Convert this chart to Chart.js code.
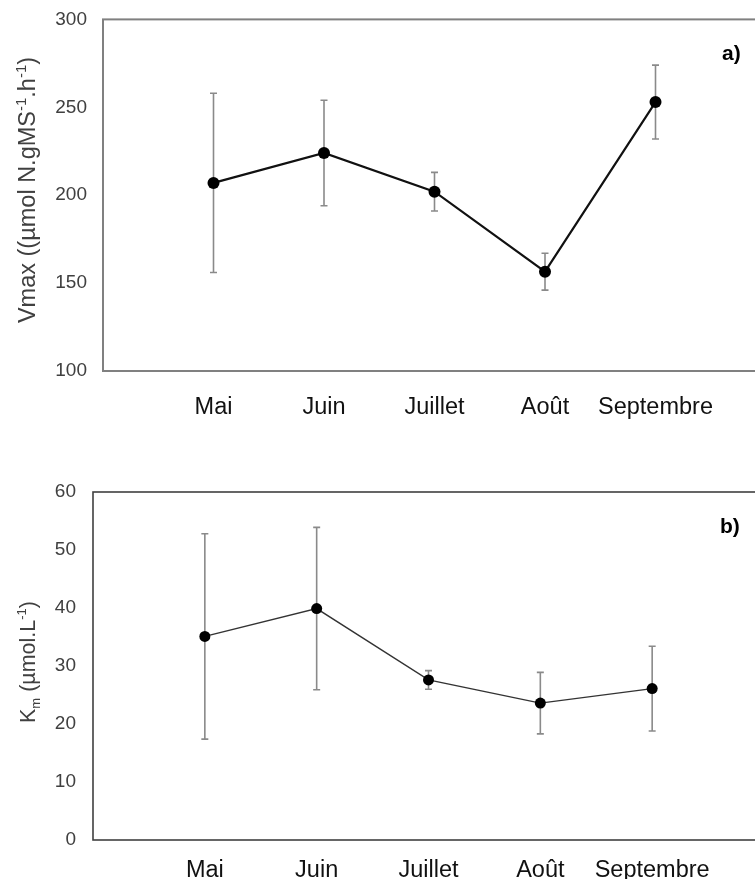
<!DOCTYPE html>
<html lang="fr">
<head>
<meta charset="UTF-8">
<title>Vmax et Km</title>
<script src="https://cdn.jsdelivr.net/npm/chart.js@4.4.1/dist/chart.umd.min.js"></script>
<style>
    html, body {
        margin: 0;
        padding: 0;
        background: #fff;
        overflow: hidden;
        width: 755px;
        height: 879px;
    }
    #wrap { width: 780px; }
    canvas { display: block; }
</style>
</head>
<body>
<div id="wrap">
    <canvas id="vmaxChart" width="780" height="440"></canvas>
    <canvas id="kmChart" width="780" height="439"></canvas>
</div>
<script>
    const months = ['Mai', 'Juin', 'Juillet', 'Août', 'Septembre'];
    const vmaxMean = [207, 224, 202, 156.5, 253];
    const vmaxErr = [51, 30, 11, 10.5, 21];
    const kmMean = [35.1, 39.9, 27.6, 23.6, 26.1];
    const kmErr = [17.7, 14, 1.6, 5.3, 7.3];

    const FONT = '"Liberation Sans", Arial, sans-serif';

    // gray box around the plot area (right side falls outside the page)
    const frame = {
        id: 'frame',
        beforeDatasetsDraw(chart) {
            const {ctx, chartArea: a} = chart;
            const ds = chart.data.datasets[0];
            ctx.save();
            ctx.strokeStyle = ds.frameColor;
            ctx.lineWidth = ds.frameWidth;
            ctx.strokeRect(a.left, a.top, a.right - a.left, a.bottom - a.top);
            ctx.restore();
        }
    };

    // vertical error bars with small caps
    const errorBars = {
        id: 'errorBars',
        beforeDatasetsDraw(chart) {
            const {ctx, scales: {x, y}} = chart;
            const ds = chart.data.datasets[0];
            ctx.save();
            ctx.strokeStyle = '#8a8a8a';
            ctx.lineWidth = 1.6;
            ds.data.forEach((p, i) => {
                const px = x.getPixelForValue(p.x);
                const top = y.getPixelForValue(p.y + ds.errors[i]);
                const bot = y.getPixelForValue(p.y - ds.errors[i]);
                ctx.beginPath();
                ctx.moveTo(px, top); ctx.lineTo(px, bot);
                ctx.moveTo(px - 3.5, top); ctx.lineTo(px + 3.5, top);
                ctx.moveTo(px - 3.5, bot); ctx.lineTo(px + 3.5, bot);
                ctx.stroke();
            });
            ctx.restore();
        }
    };

    // rotated y title with super/subscripts, and the panel letter
    const labels = {
        id: 'labels',
        afterDraw(chart) {
            const {ctx} = chart;
            const ds = chart.data.datasets[0];
            const parts = ds.titleParts;
            const big = ds.titleSize, small = Math.round(ds.titleSize * 0.62);
            ctx.save();
            ctx.fillStyle = '#404040';
            ctx.textBaseline = 'alphabetic';
            let total = 0;
            parts.forEach(p => {
                ctx.font = (p.sup || p.sub ? small : big) + 'px ' + FONT;
                p.w = ctx.measureText(p.t).width;
                total += p.w;
            });
            ctx.translate(ds.titlePos[0], ds.titlePos[1]);
            ctx.rotate(-Math.PI / 2);
            let cx = -total / 2;
            parts.forEach(p => {
                ctx.font = (p.sup || p.sub ? small : big) + 'px ' + FONT;
                const dy = p.sup ? -big * 0.4 : (p.sub ? big * 0.22 : 0);
                ctx.fillText(p.t, cx, 8 + dy);
                cx += p.w;
            });
            ctx.restore();

            ctx.save();
            ctx.fillStyle = '#000';
            ctx.font = 'bold 21px ' + FONT;
            ctx.textBaseline = 'alphabetic';
            ctx.fillText(ds.panel, ds.panelPos[0], ds.panelPos[1]);
            ctx.restore();
        }
    };

    function makeChart(id, opts) {
        return new Chart(document.getElementById(id), {
            type: 'line',
            data: {
                datasets: [{
                    data: opts.mean.map((v, i) => ({x: i + 1, y: v})),
                    errors: opts.err,
                    borderColor: opts.lineColor,
                    borderWidth: opts.lineWidth,
                    pointBackgroundColor: '#000',
                    pointBorderColor: '#000',
                    pointRadius: opts.pointRadius,
                    pointBorderWidth: 0,
                    tension: 0,
                    titleParts: opts.title,
                    titleSize: opts.titleSize,
                    titlePos: opts.titlePos,
                    panel: opts.panel,
                    panelPos: opts.panelPos,
                    frameColor: opts.frameColor,
                    frameWidth: opts.frameWidth
                }]
            },
            options: {
                responsive: false,
                animation: false,
                layout: {padding: opts.padding},
                plugins: {legend: {display: false}, tooltip: {enabled: false}},
                scales: {
                    x: {
                        type: 'linear',
                        min: 0,
                        max: 6,
                        grid: {display: false},
                        border: {display: false},
                        afterFit: s => { s.height = opts.xHeight; },
                        ticks: {
                            stepSize: 1,
                            autoSkip: false,
                            maxRotation: 0,
                            padding: opts.xPad,
                            color: '#111',
                            font: {family: FONT, size: 23.5},
                            callback: v => months[v - 1] || ''
                        }
                    },
                    y: {
                        min: opts.yMin,
                        max: opts.yMax,
                        grid: {display: false},
                        border: {display: false},
                        afterFit: s => { s.width = opts.yWidth; },
                        ticks: {
                            stepSize: opts.yStep,
                            padding: opts.yPad,
                            color: '#404040',
                            font: {family: FONT, size: 19}
                        }
                    }
                }
            },
            plugins: [frame, errorBars, labels]
        });
    }

    makeChart('vmaxChart', {
        mean: vmaxMean, err: vmaxErr,
        yMin: 100, yMax: 300, yStep: 50,
        lineColor: '#111', lineWidth: 2.2, pointRadius: 6,
        frameColor: '#808080', frameWidth: 2,
        padding: {top: 17.5, right: 14, left: 0, bottom: 0},
        yWidth: 103, yPad: 8, xHeight: 69, xPad: 14,
        title: [{t: 'Vmax ((µmol N.gMS'}, {t: '-1', sup: true}, {t: '.h'}, {t: '-1', sup: true}, {t: ')'}],
        titleSize: 23.5,
        titlePos: [27, 190],
        panel: 'a)', panelPos: [722, 60]
    });

    makeChart('kmChart', {
        mean: kmMean, err: kmErr,
        yMin: 0, yMax: 60, yStep: 10,
        lineColor: '#333', lineWidth: 1.4, pointRadius: 5.5,
        frameColor: '#404040', frameWidth: 1.6,
        padding: {top: 52, right: 16, left: 0, bottom: 0},
        yWidth: 93, yPad: 9, xHeight: 39, xPad: 8,
        title: [{t: 'K'}, {t: 'm', sub: true}, {t: ' (µmol.L'}, {t: '-1', sup: true}, {t: ')'}],
        titleSize: 21.5,
        titlePos: [27, 222],
        panel: 'b)', panelPos: [720, 93]
    });
</script>
</body>
</html>
